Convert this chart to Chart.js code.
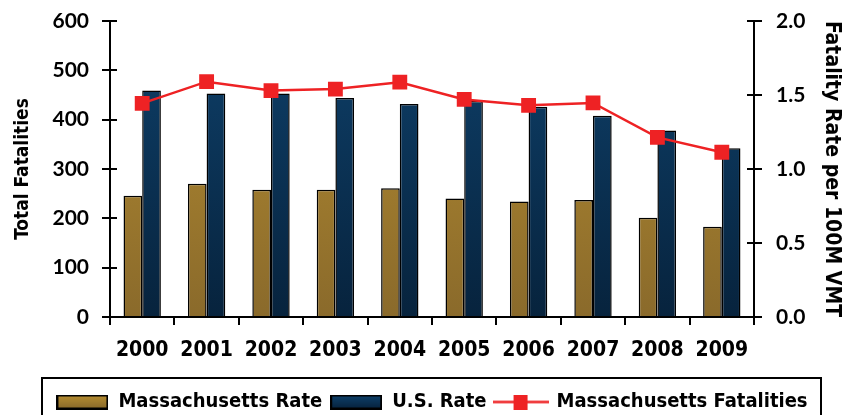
<!DOCTYPE html>
<html>
<head>
<meta charset="utf-8">
<script src="https://cdn.jsdelivr.net/npm/chart.js@4/dist/chart.umd.min.js"></script>
<style>
  html, body { margin: 0; padding: 0; background: #fff; }
  #wrap { width: 864px; height: 415px; }
</style>
</head>
<body>
<div id="wrap"><canvas id="chart"></canvas></div>
<script>
const years = ["2000", "2001", "2002", "2003", "2004", "2005", "2006", "2007", "2008", "2009"];
const maRate = [0.82, 0.90, 0.86, 0.86, 0.87, 0.80, 0.78, 0.79, 0.67, 0.61];
const usRate = [1.53, 1.51, 1.51, 1.48, 1.44, 1.46, 1.42, 1.36, 1.26, 1.14];
const maFatal = [433, 477, 459, 462, 476, 441, 429, 434, 364, 334];

const FONT = "'DejaVu Sans Condensed', 'Liberation Sans Narrow', 'Liberation Sans', sans-serif";
const TICKFONT = "Lato, 'DejaVu Sans', sans-serif";

const gold = ["#b58d31", "#8a6a2b"];
const blue = ["#0e406a", "#07233d"];

function grad(cols) {
    return function (c) {
        const a = c.chart.chartArea;
        if (!a) return cols[0];
        const g = c.chart.ctx.createLinearGradient(0, a.top, 0, a.bottom);
        g.addColorStop(0, cols[0]);
        g.addColorStop(1, cols[1]);
        return g;
    };
}

function swatch(cols) {
    let cv = document.createElement("canvas");
    cv.width = 52; cv.height = 15;
    let x = cv.getContext("2d");
    let g = x.createLinearGradient(0, 1, 0, 14);
    g.addColorStop(0, cols[0]);
    g.addColorStop(1, cols[1]);
    x.fillStyle = g;
    x.fillRect(1, 1, 50, 13);
    x.strokeStyle = "#000";
    x.lineWidth = 2;
    x.strokeRect(1, 1, 50, 13);
    return cv;
}

function lineSwatch() {
    let cv = document.createElement("canvas");
    cv.width = 56; cv.height = 15;
    let x = cv.getContext("2d");
    x.strokeStyle = "#ee2224";
    x.lineWidth = 2.5;
    x.beginPath(); x.moveTo(0, 7.5); x.lineTo(56, 7.5); x.stroke();
    x.fillStyle = "#ee2224";
    x.fillRect(21, 0, 14, 15);
    return cv;
}

// legend frame + short tick stubs on the inner side of both value axes
const extras = {
    id: "extras",
    afterDraw(chart) {
        const ctx = chart.ctx;
        ctx.save();
        ctx.strokeStyle = "#000";
        ctx.lineWidth = 2;
        ctx.strokeRect(42, 378, 779, 80);
        for (const id of ["y", "y1"]) {
            const s = chart.scales[id];
            const x0 = id === "y" ? s.right : s.left;
            const dir = id === "y" ? 1 : -1;
            ctx.beginPath();
            for (const t of s.ticks) {
                const py = Math.round(s.getPixelForValue(t.value));
                ctx.moveTo(x0, py);
                ctx.lineTo(x0 + dir * 7, py);
            }
            ctx.stroke();
        }
        ctx.restore();
    }
};

function fixY(w) {
    return function (s) {
        s.width = w;
        s.paddingTop = 0;
        s.paddingBottom = 0;
    };
}

new Chart(document.getElementById("chart"), {
    type: "bar",
    data: {
        labels: years,
        datasets: [
            {
                label: "Massachusetts Rate",
                data: maRate,
                yAxisID: "y1",
                backgroundColor: grad(gold),
                borderColor: "#000",
                borderWidth: 1.5,
                pointStyle: swatch(gold),
                order: 1
            },
            {
                label: "U.S. Rate",
                data: usRate,
                yAxisID: "y1",
                backgroundColor: grad(blue),
                borderColor: "#000",
                borderWidth: 1.5,
                pointStyle: swatch(blue),
                order: 1
            },
            {
                type: "line",
                label: "Massachusetts Fatalities",
                data: maFatal,
                yAxisID: "y",
                borderColor: "#ee2224",
                backgroundColor: "#ee2224",
                borderWidth: 2.5,
                pointStyle: "rect",
                pointRadius: 10.5,
                pointBorderWidth: 0,
                order: -1
            }
        ]
    },
    options: {
        responsive: true,
        maintainAspectRatio: false,
        animation: false,
        layout: { padding: { top: 21, right: 0, left: 0, bottom: -7 } },
        datasets: {
            bar: { categoryPercentage: 0.58, barPercentage: 1.0 }
        },
        plugins: {
            tooltip: { enabled: false },
            legend: {
                position: "bottom",
                labels: {
                    usePointStyle: true,
                    pointStyleWidth: 52,
                    boxHeight: 15,
                    color: "#000",
                    font: { family: FONT, size: 20, weight: "bold" },
                    padding: 8,
                    sort: (a, b) => a.datasetIndex - b.datasetIndex,
                    generateLabels(chart) {
                        return chart.data.datasets.map((d, i) => ({
                            text: d.label,
                            datasetIndex: i,
                            pointStyle: i === 2 ? lineSwatch() : d.pointStyle,
                            fontColor: "#000",
                            lineWidth: 0
                        }));
                    }
                }
            }
        },
        scales: {
            x: {
                afterFit(s) { s.height = 67; },
                grid: { display: true, offset: true, drawOnChartArea: false, color: "#000", lineWidth: 2, tickLength: 8 },
                border: { color: "#000", width: 2 },
                ticks: { color: "#000", font: { family: FONT, size: 21, weight: "bold" }, padding: 13 }
            },
            y: {
                position: "left",
                min: 0, max: 600,
                afterFit: fixY(110),
                grid: { drawOnChartArea: false, color: "#000", lineWidth: 2, tickLength: 8 },
                border: { color: "#000", width: 2 },
                ticks: { stepSize: 100, color: "#000", font: { family: TICKFONT, size: 21, weight: "bold" }, padding: 13 },
                title: { display: true, text: "Total Fatalities", color: "#000", font: { family: FONT, size: 19, weight: "bold" }, padding: { top: 12, bottom: 0 } }
            },
            y1: {
                position: "right",
                min: 0, max: 2,
                afterFit: fixY(110),
                grid: { drawOnChartArea: false, color: "#000", lineWidth: 2, tickLength: 8 },
                border: { color: "#000", width: 2 },
                ticks: { stepSize: 0.5, color: "#000", font: { family: TICKFONT, size: 21, weight: "bold" }, padding: 14, callback: v => v.toFixed(1) },
                title: { display: true, text: "Fatality Rate per 100M VMT", color: "#000", font: { family: FONT, size: 21, weight: "bold" }, padding: { top: 20, bottom: 0 } }
            }
        }
    },
    plugins: [extras]
});
</script>
</body>
</html>
